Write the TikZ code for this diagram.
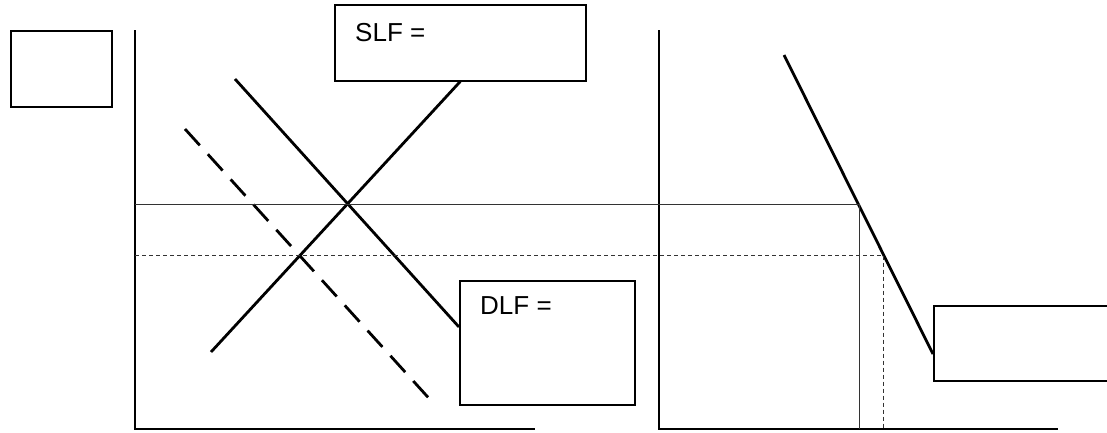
\documentclass[tikz,border=0pt]{standalone}
\usepackage{fontspec}
\setmainfont{Liberation Sans}
\usetikzlibrary{positioning}

\tikzset{
  box/.style={draw, line width=1.5pt, minimum width=#1, inner sep=0pt},
  curve/.style={line width=2.8pt},
  guide/.style={line width=0.9pt, black!80},
  guidedash/.style={guide, dash pattern=on 4pt off 3pt},
  axis/.style={line width=1.3pt}
}

\begin{document}
\begin{tikzpicture}[x=1pt, y=-1pt, font=\fontsize{26}{30}\selectfont]
        \useasboundingbox (0,0) rectangle (1107,432);

        % boxes
        \node[box=101pt, minimum height=76pt, anchor=north west] (pbox) at (10,30) {};
        \node[box=251pt, minimum height=76pt, anchor=north west] (slf) at (334,4) {};
        \node[box=175pt, minimum height=124pt, anchor=north west] (dlf) at (459,280) {};
        \node[box=180pt, minimum height=75pt, anchor=north west] (qbox) at (933,305) {};
        \node[anchor=base west, inner sep=0pt] (slftext) at (355,41) {SLF =};
        \node[anchor=base west, inner sep=0pt] (dlftext) at (480,314) {DLF =};

        % axes
        \coordinate (o1) at (135,429);
        \coordinate (o2) at (659,429);
        \draw[axis] (135,30) -- (o1) -- (535,429);
        \draw[axis] (659,30) -- (o2) -- (1058,429);

        % labour market
        \coordinate (s0) at (211,352);
        \coordinate (d0) at (235,79);
        \coordinate (d1) at (459,327);
        \coordinate (e0) at (185,129);
        \coordinate (e1) at (435,405);
        \draw[curve] (s0) -- (slf.south);
        \draw[curve] (d0) -- (d1);
        \draw[curve, dash pattern=on 22pt off 12pt] (e0) -- (e1);

        % product demand
        \coordinate (p0) at (784,55);
        \coordinate (p1) at (933,354);
        \draw[curve] (p0) -- (p1);

        % guides
        \coordinate (w1) at (135,204);
        \coordinate (w2) at (135,255);
        \coordinate (a1) at (859,204);
        \coordinate (a2) at (883.5,255);
        \draw[guide] (w1) -- (a1) -- (859,429);
        \draw[guidedash] (w2) -- (a2) -- (883.5,429);
    \end{tikzpicture}
\end{document}
